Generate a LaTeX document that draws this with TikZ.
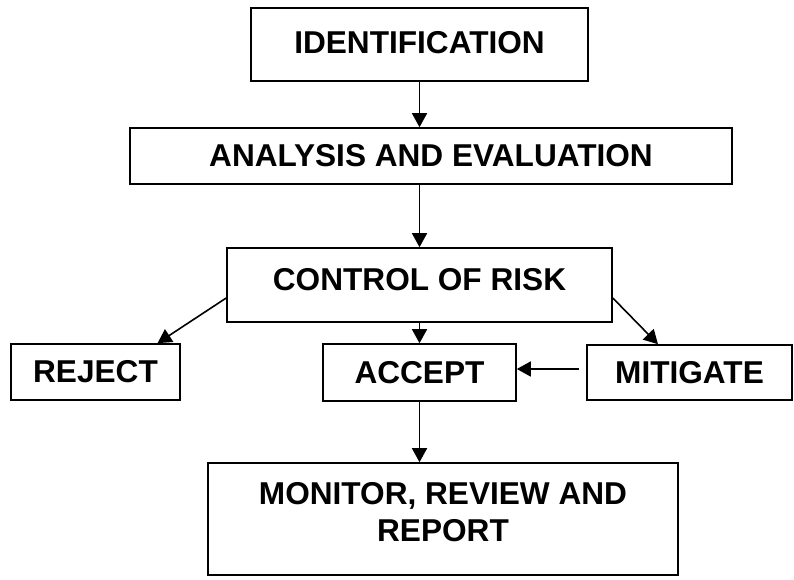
\documentclass[tikz,border=0pt]{standalone}
\usepackage{fontspec}
\setmainfont{Liberation Sans}
\usetikzlibrary{arrows.meta,calc}
\begin{document}
\begin{tikzpicture}[x=1pt,y=-1pt,
  box/.style={draw, line width=1.6pt, rectangle, inner sep=0pt, align=center,
    font=\fontsize{31.6}{37}\selectfont\bfseries},
  conn/.style={line width=1.6pt, -{Triangle[length=14pt,width=15pt]}}]
\useasboundingbox (0,0) rectangle (794,579);
\node[box, minimum width=337pt, minimum height=73pt, text depth=5pt] (ident) at (419.5,44.5) {IDENTIFICATION};
\node[box, minimum width=602pt, minimum height=56pt] (anal) at (431,156) {ANALYSIS AND EVALUATION};
\node[box, minimum width=385pt, minimum height=74pt, text depth=12pt] (ctrl) at (419.5,285) {CONTROL OF RISK};
\node[box, minimum width=169pt, minimum height=56pt] (reject) at (95.5,372) {REJECT};
\node[box, minimum width=193pt, minimum height=57pt] (accept) at (419.5,372.5) {ACCEPT};
\node[box, minimum width=205pt, minimum height=55pt] (mitig) at (689.5,372.5) {MITIGATE};
\node[box, minimum width=470pt, minimum height=112pt, text depth=14pt] (monitor) at (443,519) {MONITOR, REVIEW AND\\REPORT};

\draw[conn] (ident.south) -- (ident.south |- anal.north);
\draw[conn] (ctrl.north |- anal.south) -- (ctrl.north);
\draw[conn] ([yshift=-13pt]ctrl.west) -- ([xshift=62pt]reject.north);
\draw[conn] ([yshift=-13pt]ctrl.east) -- ([xshift=-31.5pt]mitig.north);
\draw[conn] (ctrl.south) -- (accept.north);
\draw[conn, shorten <=7pt] ([yshift=3.5pt]mitig.west) -- ([yshift=3.5pt]accept.east);
\draw[conn] (accept.south) -- (accept.south |- monitor.north);
\end{tikzpicture}
\end{document}
